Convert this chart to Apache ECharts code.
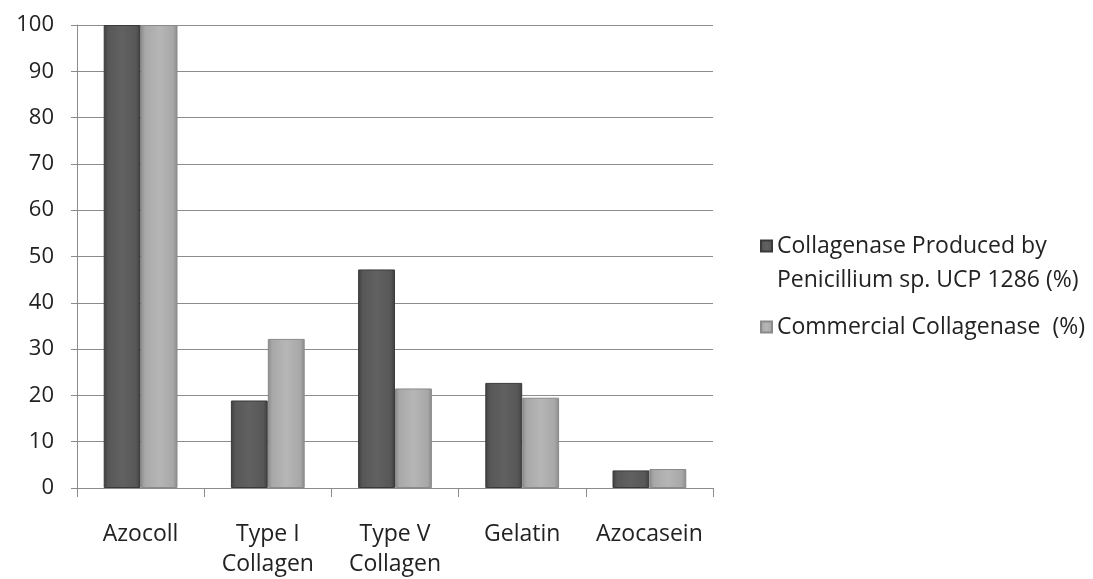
<!DOCTYPE html>
<html>
<head>
<meta charset="utf-8">
<script src="https://cdn.jsdelivr.net/npm/echarts@6/dist/echarts.min.js"></script>
<style>
  html, body { margin: 0; padding: 0; background: #ffffff; }
  #chart { width: 1093px; height: 579px; }
</style>
</head>
<body>
<div id="chart"></div>
<script>
// Substrate specificity: relative activity (%) of each enzyme
const categories = ['Azocoll', 'Type I\nCollagen', 'Type V\nCollagen', 'Gelatin', 'Azocasein'];
const seriesNames = ['Collagenase Produced by\nPenicillium sp. UCP 1286 (%)', 'Commercial Collagenase  (%)'];
const producedValues = [100, 18.9, 47.2, 22.7, 3.8];
const commercialValues = [100, 32.2, 21.5, 19.5, 4.1];

const FONT = '"Open Sans", "Noto Sans", sans-serif';

function barFill(edge, mid, face) {
  return {
    type: 'linear', x: 0, y: 0, x2: 1, y2: 0,
    colorStops: [
      { offset: 0, color: edge },
      { offset: 0.12, color: mid },
      { offset: 0.5, color: face },
      { offset: 0.88, color: mid },
      { offset: 1, color: edge }
    ]
  };
}

const chart = echarts.init(document.getElementById('chart'), null, { renderer: 'canvas' });
chart.setOption({
  backgroundColor: '#ffffff',
  animation: false,
  grid: { left: 77, right: 380, top: 25, bottom: 88, containLabel: false },
  legend: {
    orient: 'vertical',
    left: 755,
    top: 190,
    itemWidth: 11,
    itemHeight: 11,
    itemGap: 13,
    icon: 'rect',
    // a blank leading line puts the marker level with the first line of a two-line name
    formatter: name => (name.indexOf('\n') >= 0 ? '\n' + name : name),
    textStyle: { fontFamily: FONT, fontSize: 23, color: '#222222', lineHeight: 34 },
    data: seriesNames
  },
  xAxis: {
    type: 'category',
    data: categories,
    axisLine: { lineStyle: { color: '#8c8c8c', width: 1 } },
    axisTick: { show: true, alignWithLabel: false, length: 9, lineStyle: { color: '#8c8c8c' } },
    axisLabel: { fontFamily: FONT, fontSize: 23, color: '#222222', margin: 31, lineHeight: 30, interval: 0 }
  },
  yAxis: {
    type: 'value',
    min: 0,
    max: 100,
    interval: 10,
    axisLine: { show: true, lineStyle: { color: '#8c8c8c', width: 1 } },
    axisTick: { show: true, length: 6, lineStyle: { color: '#8c8c8c' } },
    axisLabel: { fontFamily: FONT, fontSize: 22, color: '#222222', margin: 23 },
    splitLine: { show: true, lineStyle: { color: '#8c8c8c', width: 1 } }
  },
  series: [
    {
      name: seriesNames[0],
      type: 'bar',
      data: producedValues,
      barGap: '0%',
      barCategoryGap: '42%',
      itemStyle: { color: barFill('#3e3e3e', '#575757', '#616161'), borderColor: '#3a3a3a', borderWidth: 1 }
    },
    {
      name: seriesNames[1],
      type: 'bar',
      data: commercialValues,
      itemStyle: { color: barFill('#8a8a8a', '#a8a8a8', '#b6b6b6'), borderColor: '#8a8a8a', borderWidth: 1 }
    }
  ]
});
</script>
</body>
</html>
